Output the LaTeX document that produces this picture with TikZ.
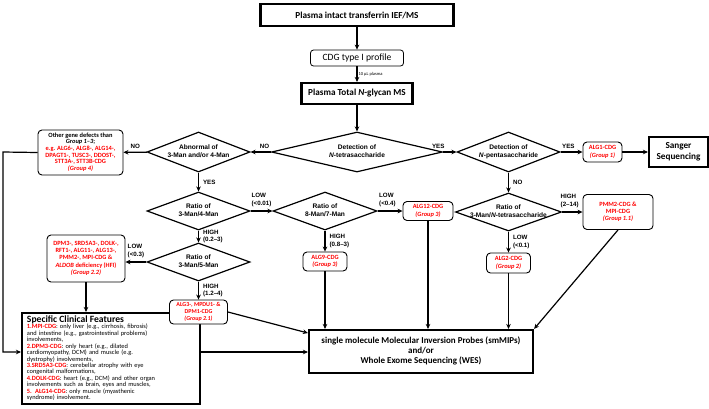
\documentclass[tikz,border=0pt]{standalone}
\usepackage{fontspec}
\setmainfont{Carlito}
\newfontfamily\arialfont{Liberation Sans}
\usepackage{tikz}
\usetikzlibrary{positioning, shapes.geometric, arrows.meta}

\setlength{\tabcolsep}{0pt}
\newcommand{\diatext}[1]{\makebox[0pt]{\begin{tabular}{c}#1\end{tabular}}}

\tikzset{
  mainbox/.style={draw, line width=2.2pt, inner sep=0pt,
    font=\bfseries\fontsize{9.2}{11}\selectfont},
  cdgbox/.style={draw, rounded corners=3pt, line width=0.8pt, inner sep=0pt,
    font=\fontsize{9.6}{11}\selectfont},
  genebox/.style={draw, fill=white, rounded corners=4pt, line width=0.9pt, inner sep=0pt,
    text=red, font=\bfseries\fontsize{6.4}{7.2}\selectfont},
  decision/.style={draw, diamond, aspect=2.6, inner sep=0pt, line width=1.2pt,
    font=\arialfont\bfseries\fontsize{6.6}{7.7}\selectfont},
  lbl/.style={inner sep=1pt, font=\arialfont\bfseries\fontsize{6.2}{7.3}\selectfont},
  arr/.style={-{Stealth[length=5pt,width=4.6pt]}, line width=1.2pt},
}

\begin{document}
\begin{tikzpicture}[x=1pt, y=-1pt]
    \useasboundingbox (0,0) rectangle (709,408);

    % top of the flow
    \node[mainbox, minimum width=193pt, minimum height=22pt] (ief) at (357,15) {Plasma intact transferrin IEF/MS};
    \node[cdgbox, minimum width=93pt, minimum height=16pt] (cdg) at (357,58) {CDG type I profile};
    \node[mainbox, minimum width=111pt, minimum height=21pt] (nglycan) at (357,93.5) {Plasma Total \textit{N}-glycan MS};

    % ----------

    \node[decision, minimum width=171pt, minimum height=40pt] (tetra) at (357,152) {\diatext{Detection of\\\textit{N}-tetrasaccharide}};
    \node[decision, minimum width=103pt, minimum height=40pt] (abn) at (198.5,152) {\diatext{Abnormal of\\3-Man and/or 4-Man}};
    \node[decision, minimum width=103pt, minimum height=40pt] (pent) at (508.5,152) {\diatext{Detection of\\\textit{N}-pentasaccharide}};

    \node[genebox, minimum width=39pt, minimum height=20pt] (alg1) at (602.5,152) {
    \begin{tabular}{c}
    ALG1-CDG\\
    \textit{(Group 1)}
    \end{tabular}
    };
    \node[mainbox, minimum width=59pt, minimum height=30pt] (sanger) at (678.5,152) {
    \begin{tabular}{c}
    Sanger\\
    Sequencing
    \end{tabular}
    };
    \node[genebox, minimum width=85pt, minimum height=45pt, font=\bfseries\fontsize{6.4}{6.7}\selectfont] (other) at (80.5,152.5) {
    \begin{tabular}{c}
    \textcolor{black}{Other gene defects than}\\
    \textcolor{black}{\textit{Group 1–3};}\\
    e.g. ALG6-, ALG8-, ALG14-,\\
    DPAGT1-, TUSC3-, DDOST-,\\
    STT3A-, STT3B-CDG\\
    \textit{(Group 4)}
    \end{tabular}
    };

    % ----------

    \node[decision, minimum width=103pt, minimum height=38pt] (d34) at (198.5,211) {\diatext{Ratio of\\3-Man/4-Man}};
    \node[decision, minimum width=104pt, minimum height=38pt] (d87) at (325,211) {\diatext{Ratio of\\8-Man/7-Man}};
    \node[genebox, minimum width=50pt, minimum height=19pt] (alg12) at (428,211) {
    \begin{tabular}{c}
    ALG12-CDG\\
    \textit{(Group 3)}
    \end{tabular}
    };
    \node[decision, minimum width=106pt, minimum height=38pt] (d3n) at (508.5,212) {\diatext{Ratio of\\3-Man/\textit{N}-tetrasaccharide}};
    \node[genebox, minimum width=70pt, minimum height=35pt] (pmm2) at (618,212) {
    \begin{tabular}{c}
    PMM2-CDG \&\\
    MPI-CDG\\
    \textit{(Group 1.1)}
    \end{tabular}
    };

    % ----------

    \node[decision, minimum width=103pt, minimum height=38pt] (d35) at (198.5,262) {\diatext{Ratio of\\3-Man/5-Man}};
    \node[genebox, minimum width=78pt, minimum height=47pt, font=\bfseries\fontsize{6.4}{7.3}\selectfont] (dpm3) at (86,258.5) {
    \begin{tabular}{c}
    DPM3-, SRD5A3-, DOLK-,\\
    RFT1-, ALG11-, ALG13-,\\
    PMM2-, MPI-CDG \&\\
    \textit{ALDOB} deficiency (HFI)\\
    \textit{(Group 2.2)}
    \end{tabular}
    };
    \node[genebox, minimum width=44pt, minimum height=19pt] (alg9) at (325,261.5) {
    \begin{tabular}{c}
    ALG9-CDG\\
    \textit{(Group 3)}
    \end{tabular}
    };
    \node[genebox, minimum width=44pt, minimum height=20pt] (alg2) at (508.5,263) {
    \begin{tabular}{c}
    ALG2-CDG\\
    \textit{(Group 2)}
    \end{tabular}
    };

    % ----------

    \node[draw, line width=2.2pt, inner xsep=5pt, inner ysep=0pt, text width=168pt, minimum height=91pt,
      align=left, font=\fontsize{6.4}{6.25}\selectfont] (clin) at (111,358.5) {
    \begin{tabular}{l}
    {\bfseries\fontsize{9.6}{10}\selectfont Specific Clinical Features}\\
    \textcolor{red}{\textbf{1.MPI-CDG}}: only liver (e.g., cirrhosis, fibrosis)\\
    and intestine (e.g., gastrointestinal problems)\\
    involvements,\\
    \textcolor{red}{\textbf{2.DPM3-CDG}}: only heart (e.g., dilated\\
    cardiomyopathy, DCM) and muscle (e.g.\\
    dystrophy) involvements,\\
    \textcolor{red}{\textbf{3.SRD5A3-CDG}}: cerebellar atrophy with eye\\
    congenital malformations,\\
    \textcolor{red}{\textbf{4.DOLK-CDG}}: heart (e.g., DCM) and other organ\\
    involvements such as brain, eyes and muscles,\\
    \textcolor{red}{\textbf{5. ALG14-CDG}}: only muscle (myasthenic\\
    syndrome) involvement.
    \end{tabular}
    };
    % drawn over the corner of the clinical box
    \node[genebox, minimum width=58pt, minimum height=24pt, font=\bfseries\fontsize{6}{6.9}\selectfont] (alg3) at (198.5,312) {
    \begin{tabular}{c}
    ALG3-, MPDU1- \&\\
    DPM1-CDG\\
    \textit{(Group 2.1)}
    \end{tabular}
    };
    \node[mainbox, minimum width=224pt, minimum height=43pt, font=\bfseries\fontsize{9}{10}\selectfont] (wes) at (421,351.5) {
    \begin{tabular}{c}
    single molecule Molecular Inversion Probes (smMIPs)\\
    and/or\\
    Whole Exome Sequencing (WES)
    \end{tabular}
    };

    % connectors
    \draw[arr] (ief) -- (cdg);
    \draw[arr] (cdg) -- node[right, inner sep=1pt, font=\fontsize{4.5}{5}\selectfont] (ul) {10 µL plasma} (nglycan);
    \draw[arr] (nglycan) -- (tetra);

    \draw[arr] (tetra) -- node[lbl, above left, pos=0, yshift=2pt] (no1) {NO} (abn);
    \draw[arr] (tetra) -- node[lbl, above left, pos=0, xshift=3pt, yshift=2pt] (yes1) {YES} (pent);
    \draw[arr] (abn) -- node[lbl, above, yshift=2pt] (no2) {NO} (other);
    \draw[arr] (pent) -- node[lbl, above right, pos=0, yshift=2pt] (yes3) {YES} (alg1);
    \draw[arr] (alg1) -- (sanger);

    \draw[arr] (abn) -- node[lbl, right, xshift=3pt] (yes2) {YES} (d34);
    \draw[arr] (d34) -- node[lbl, above, yshift=2pt] (low1) {\begin{tabular}{l}LOW\\(<0.01)\end{tabular}} (d87);
    \draw[arr] (d87) -- node[lbl, above right, pos=0, yshift=2pt] (low2) {\begin{tabular}{l}LOW\\(<0.4)\end{tabular}} (alg12);
    \draw[arr] (pent) -- node[lbl, right, xshift=3pt] (no3) {NO} (d3n);
    \draw[arr] (d3n) -- node[lbl, above right, pos=0, xshift=-3pt, yshift=2pt] (high4) {\begin{tabular}{l}HIGH\\(2–14)\end{tabular}} (pmm2);

    \draw[arr] (d34) -- node[lbl, right, xshift=3pt] (high1) {\begin{tabular}{l}HIGH\\(0.2–3)\end{tabular}} (d35);
    \draw[arr] (d35.west) -- node[lbl, above, yshift=2pt] (low3) {\begin{tabular}{l}LOW\\(<0.3)\end{tabular}} (d35.west -| dpm3.east);
    \draw[arr] (d87) -- node[lbl, right, xshift=3pt] (high3) {\begin{tabular}{l}HIGH\\(0.8–3)\end{tabular}} (alg9);
    \draw[arr] (d3n) -- node[lbl, right, xshift=3pt] (low4) {\begin{tabular}{l}LOW\\(<0.1)\end{tabular}} (alg2);
    \draw[arr] (d35) -- node[lbl, right, xshift=3pt] (high2) {\begin{tabular}{l}HIGH\\(1.2–4)\end{tabular}} (alg3);

    \draw[arr] (dpm3) -- (dpm3 |- clin.north);
    \draw[arr] (other.west) -- (3,152) |- (clin.west |- 0,352);

    \draw[arr] (alg3.east) -- (wes.west |- 0,333);
    \draw[arr] (clin.east |- 0,352) -- (wes.west |- 0,352);
    \draw[arr] (alg9) -- (alg9 |- wes.north);
    \draw[arr] (alg12) -- (alg12 |- wes.north);
    \draw[arr] (alg2) -- (alg2 |- wes.north);
    \draw[arr] (pmm2.south) -- (wes.north east);

\end{tikzpicture}
\end{document}
